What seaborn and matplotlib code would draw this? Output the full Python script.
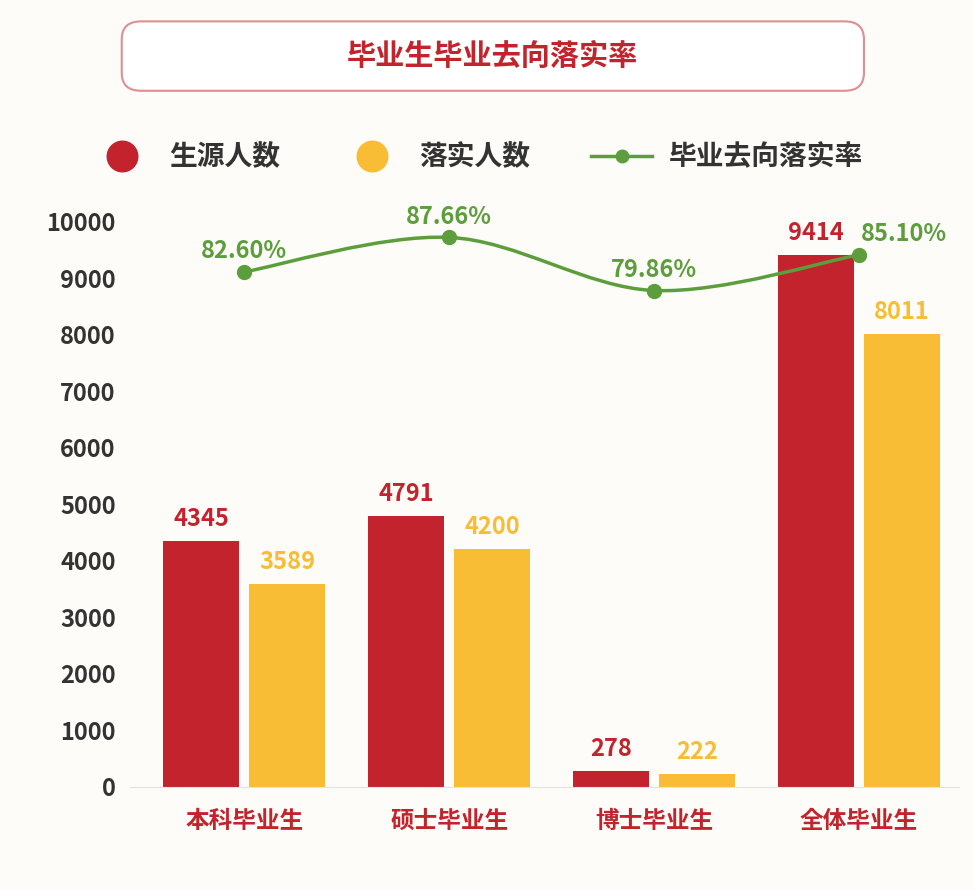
import numpy as np
import pandas as pd
import matplotlib.pyplot as plt
import seaborn as sns
from matplotlib import font_manager
from matplotlib.patches import FancyBboxPatch, PathPatch
from matplotlib.path import Path
from matplotlib.lines import Line2D

# pick an installed CJK font by name
cjk = [f.name for f in font_manager.fontManager.ttflist if "CJK SC" in f.name]
if not cjk:
    cjk = [f.name for f in font_manager.fontManager.ttflist if "CJK" in f.name]
plt.rcParams['font.family'] = [cjk[0] if cjk else 'Noto Sans CJK SC', 'DejaVu Sans']

# ===== data =====
categories = ["本科毕业生", "硕士毕业生", "博士毕业生", "全体毕业生"]
source_counts = [4345, 4791, 278, 9414]
placed_counts = [3589, 4200, 222, 8011]
rates = [82.60, 87.66, 79.86, 85.10]

RED = "#c2232c"
YELLOW = "#f8bd35"
GREEN = "#5c9e3c"
BG = "#fdfcf8"

df = pd.DataFrame({
    "cat": categories * 2,
    "value": source_counts + placed_counts,
    "kind": ["生源人数"] * 4 + ["落实人数"] * 4,
})

fig = plt.figure(figsize=(9.74, 8.9), dpi=100, facecolor=BG)
ax = fig.add_axes([0.133, 0.116, 0.852, 0.635], facecolor=BG)

sns.barplot(data=df, x="cat", y="value", hue="kind", palette=[RED, YELLOW],
            width=0.84, gap=0.12, saturation=1, legend=False, ax=ax)
ax.set_ylim(0, 10000)
ax.set_xlim(-0.56, 3.49)
ax.set_yticks(range(0, 10001, 1000))
ax.set_xlabel("")
ax.set_ylabel("")
for s in ["top", "right", "left"]:
    ax.spines[s].set_visible(False)
ax.spines["bottom"].set_color("#e6e2da")
ax.tick_params(axis="both", length=0)
ax.tick_params(axis="y", labelsize=17, labelcolor="#333333", pad=10)
ax.tick_params(axis="x", labelsize=17, labelcolor=RED, pad=16)
for t in ax.get_yticklabels() + ax.get_xticklabels():
    t.set_fontweight("bold")

# bar value labels
n = len(categories)
for i, p in enumerate(ax.patches[:2 * n]):
    color = RED if i < n else YELLOW
    ax.text(p.get_x() + p.get_width() / 2, p.get_height() + 180,
            f"{int(p.get_height())}", ha="center", va="bottom",
            fontsize=17, fontweight="bold", color=color)

# rate line on twin axis, smooth curve (Catmull-Rom)
ax2 = ax.twinx()
ax2.set_ylim(6.98, 89.98)
ax2.axis("off")
x = np.arange(n, dtype=float)
y = np.array(rates)
verts = [(x[0], y[0])]
codes = [Path.MOVETO]
for i in range(n - 1):
    p0 = np.array([x[max(i - 1, 0)], y[max(i - 1, 0)]])
    p1 = np.array([x[i], y[i]])
    p2 = np.array([x[i + 1], y[i + 1]])
    p3 = np.array([x[min(i + 2, n - 1)], y[min(i + 2, n - 1)]])
    c1 = p1 + (p2 - p0) / 6
    c2 = p2 - (p3 - p1) / 6
    verts += [tuple(c1), tuple(c2), tuple(p2)]
    codes += [Path.CURVE4] * 3
ax2.add_patch(PathPatch(Path(verts, codes), fill=False, edgecolor=GREEN, lw=2.5))
ax2.plot(x, y, "o", color=GREEN, ms=10, zorder=5)
for i, (xi, yi) in enumerate(zip(x, y)):
    dx = 0.22 if i == n - 1 else 0
    ax2.text(xi + dx, yi + 1.3, f"{yi:.2f}%", ha="center", va="bottom",
             fontsize=17, fontweight="bold", color=GREEN)

# title box
box = FancyBboxPatch((0.125, 0.898), 0.762, 0.078, transform=fig.transFigure,
                     boxstyle="round,pad=0,rounding_size=0.02",
                     facecolor="white", edgecolor="#dd8f92", lw=1.5)
fig.patches.append(box)
fig.text(0.506, 0.937, "毕业生毕业去向落实率", ha="center", va="center",
         fontsize=21, fontweight="bold", color=RED)

# legend
handles = [
    Line2D([], [], marker="o", ls="", color=RED, ms=22),
    Line2D([], [], marker="o", ls="", color=YELLOW, ms=22),
    Line2D([], [], marker="o", ls="-", color=GREEN, ms=9, lw=2.5),
]
leg = fig.legend(handles, ["生源人数", "落实人数", "毕业去向落实率"], ncol=3,
                 loc="center", bbox_to_anchor=(0.49, 0.823), frameon=False,
                 prop={"size": 20, "weight": "bold"}, handlelength=2.2,
                 columnspacing=2.2, handletextpad=0.6)
for t in leg.get_texts():
    t.set_color("#333333")

fig.savefig("out.png", dpi=100, facecolor=BG)
